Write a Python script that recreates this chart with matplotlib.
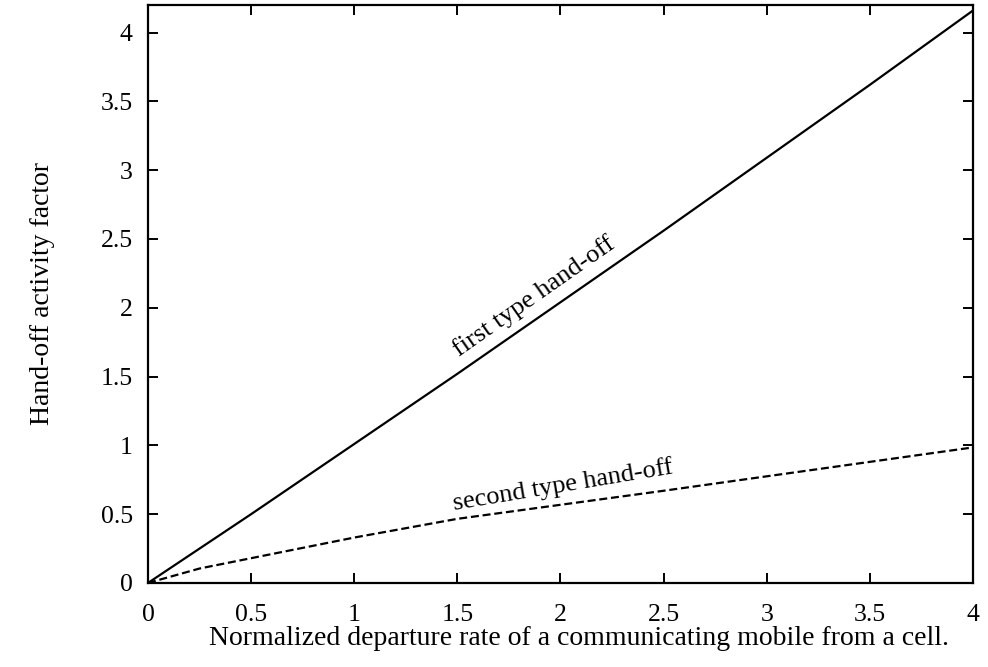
import matplotlib
matplotlib.use("Agg")
import matplotlib.pyplot as plt

# values
departure_rate = [0, 0.25, 0.5, 1.0, 1.5, 2.0, 2.5, 3.0, 3.5, 4.0]
first_type = [0, 0.25, 0.5, 1.01, 1.52, 2.04, 2.56, 3.09, 3.62, 4.16]
second_type = [0, 0.105, 0.18, 0.33, 0.466, 0.568, 0.67, 0.775, 0.88, 0.985]

x_ticks = [0, 0.5, 1, 1.5, 2, 2.5, 3, 3.5, 4]
x_tick_labels = ["0", "0.5", "1", "1.5", "2", "2.5", "3", "3.5", "4"]
y_ticks = [0, 0.5, 1, 1.5, 2, 2.5, 3, 3.5, 4]
y_tick_labels = ["0", "0.5", "1", "1.5", "2", "2.5", "3", "3.5", "4"]

plt.rcParams["font.family"] = ["Liberation Serif", "DejaVu Serif"]

fig = plt.figure(figsize=(9.88, 6.67), dpi=100)
ax = fig.add_axes([0.1498, 0.126, 0.835, 0.8665])

ax.plot(departure_rate, first_type, color="black", lw=1.6)
ax.plot(departure_rate, second_type, color="black", lw=1.6, linestyle=(0, (3.6, 1.7)))

ax.text(1.87, 2.08, "first type hand-off", rotation=35, ha="center", va="center",
        fontsize=19, rotation_mode="anchor")
ax.text(2.01, 0.71, "second type hand-off", rotation=9.5, ha="center", va="center",
        fontsize=19, rotation_mode="anchor")

ax.set_xlim(0, 4)
ax.set_ylim(0, 4.2)
ax.set_xticks(x_ticks)
ax.set_xticklabels(x_tick_labels)
ax.set_yticks(y_ticks)
ax.set_yticklabels(y_tick_labels)
ax.tick_params(direction="in", length=7, width=1.4, top=True, right=True,
               labelsize=18.5)
ax.tick_params(axis="x", pad=15)
ax.tick_params(axis="y", pad=11)
for s in ax.spines.values():
    s.set_linewidth(1.6)

ax.set_xlabel("Normalized departure rate of a communicating mobile from a cell.",
              fontsize=20, labelpad=-2)
ax.xaxis.set_label_coords(0.522, -0.075)
ax.set_ylabel("Hand-off activity factor", fontsize=20, labelpad=33)

fig.savefig("out.png", dpi=100)
